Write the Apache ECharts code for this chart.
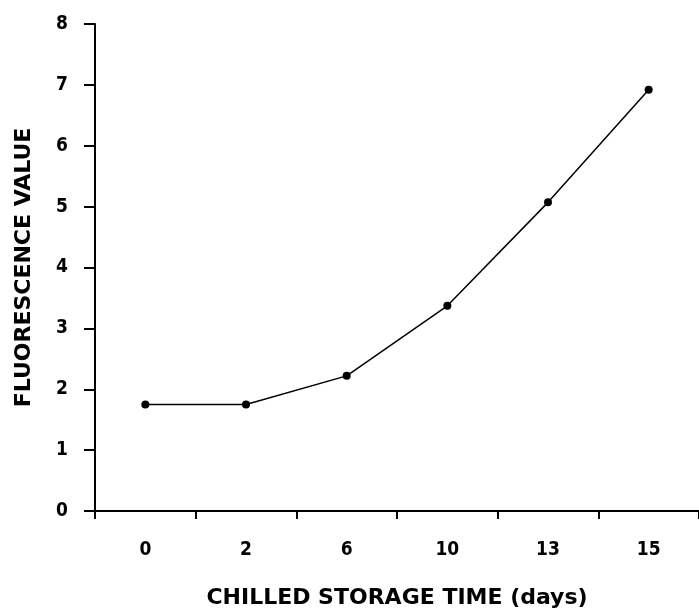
<!DOCTYPE html>
<html>
<head>
<meta charset="utf-8">
<script src="https://cdn.jsdelivr.net/npm/echarts@6/dist/echarts.min.js"></script>
<style>html,body{margin:0;padding:0;background:#fff}#c{width:699px;height:614px}</style>
</head>
<body>
<div id="c"></div>
<script>
const categories = ['0', '2', '6', '10', '13', '15'];
const fluorescence = [1.75, 1.75, 2.22, 3.37, 5.07, 6.92];
const xTitle = 'CHILLED STORAGE TIME (days)';
const yTitle = 'FLUORESCENCE VALUE';

const chart = echarts.init(document.getElementById('c'), null, {renderer: 'canvas'});
const tickFont = {fontFamily: '"Liberation Sans Narrow", "DejaVu Sans Condensed", sans-serif', fontWeight: 'bold', fontSize: 19, color: '#000'};
const titleFont = {fontFamily: '"DejaVu Sans", sans-serif', fontWeight: 'bold', fontSize: 22, color: '#000'};
chart.setOption({
  animation: false,
  backgroundColor: '#fff',
  grid: {left: 95, right: 0, top: 24, bottom: 98, containLabel: false},
  xAxis: {
    type: 'category',
    data: categories,
    boundaryGap: true,
    axisLine: {lineStyle: {color: '#000', width: 2}},
    axisTick: {show: true, length: 8, lineStyle: {color: '#000', width: 2}},
    axisLabel: Object.assign({margin: 30}, tickFont),
    splitLine: {show: false},
    name: xTitle,
    nameLocation: 'middle',
    nameGap: 76,
    nameTextStyle: titleFont
  },
  yAxis: {
    type: 'value',
    min: 0,
    max: 8,
    interval: 1,
    axisLine: {show: true, lineStyle: {color: '#000', width: 2}},
    axisTick: {show: true, length: 11, lineStyle: {color: '#000', width: 2}},
    axisLabel: Object.assign({margin: 27}, tickFont),
    splitLine: {show: false},
    name: yTitle,
    nameLocation: 'middle',
    nameGap: 60,
    nameTextStyle: titleFont
  },
  series: [{
    type: 'line',
    data: fluorescence,
    symbol: 'circle',
    symbolSize: 8,
    itemStyle: {color: '#000'},
    lineStyle: {color: '#000', width: 1.5}
  }]
});
</script>
</body>
</html>
